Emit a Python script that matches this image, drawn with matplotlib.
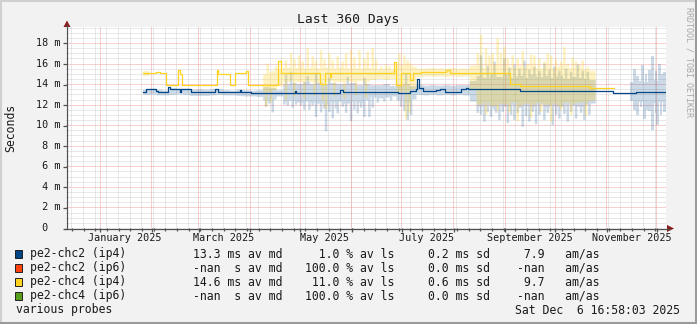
import numpy as np
import pandas as pd
import matplotlib
matplotlib.use("Agg")
import matplotlib.pyplot as plt
import matplotlib.dates as mdates
from matplotlib.lines import Line2D
from matplotlib.patches import Rectangle, Polygon

W, H, DPI = 697, 324, 100
MONO = "DejaVu Sans Mono"

window_end = pd.Timestamp("2025-12-06 16:58:03")
window_start = window_end - pd.Timedelta(days=360)

# ---- median round-trip times (ms), step series ----
chc2_v4_dates = ["2025-01-27", "2025-01-29", "2025-02-04", "2025-02-05", "2025-02-11",
                 "2025-02-12", "2025-02-18", "2025-02-19", "2025-02-25", "2025-03-11",
                 "2025-03-13", "2025-03-26", "2025-03-27", "2025-04-02", "2025-04-28",
                 "2025-04-29", "2025-05-25", "2025-05-27", "2025-06-29", "2025-07-06",
                 "2025-07-10", "2025-07-10 12:00", "2025-07-11 12:00", "2025-07-14",
                 "2025-07-22", "2025-07-24", "2025-07-27", "2025-08-06", "2025-08-09",
                 "2025-08-10", "2025-09-10", "2025-11-05", "2025-11-19", "2025-12-06 16:00"]
chc2_v4_ms = [13.2, 13.5, 13.35, 13.2, 13.75,
              13.5, 13.2, 13.5, 13.2, 13.5,
              13.2, 13.4, 13.2, 13.1, 13.35,
              13.1, 13.45, 13.2, 13.1, 13.3,
              13.5, 14.45, 13.6, 13.3,
              13.4, 13.5, 13.27, 13.5, 13.6,
              13.5, 13.35, 13.1, 13.2, 13.2]

chc4_v4_dates = ["2025-01-27", "2025-02-04", "2025-02-06", "2025-02-10", "2025-02-17",
                 "2025-02-18", "2025-02-19 12:00", "2025-03-12 12:00", "2025-03-13", "2025-03-20",
                 "2025-03-23", "2025-03-30", "2025-03-31", "2025-04-18", "2025-04-20",
                 "2025-05-13", "2025-05-16", "2025-05-19", "2025-05-20", "2025-06-26 12:00",
                 "2025-06-28", "2025-07-01", "2025-07-06", "2025-07-08", "2025-07-13",
                 "2025-07-28", "2025-07-30", "2025-09-04", "2025-09-10", "2025-10-22",
                 "2025-11-05 12:00"]
chc4_v4_ms = [15.05, 15.15, 15.05, 13.9, 15.4,
              15.0, 13.9, 15.35, 15.0, 13.9,
              15.05, 15.3, 13.9, 16.2, 15.05,
              14.0, 15.05, 14.7, 15.1, 16.1,
              13.9, 15.05, 14.4, 15.05, 15.15,
              15.4, 15.1, 14.0, 13.85, 13.65,
              13.65]

# ---- smoke: typical min..max band per 4-day bin (ms) ----
smoke_first_bin = "2025-01-27"
smoke_bin_days = 4
nan = np.nan
chc2_v4_lo = [12.95, 13.0, 12.9, 12.9, 12.95, 13.0, 12.95, 12.85, 12.85, 12.85,
              12.9, 12.95, 12.9, 12.9, 12.85, 12.8, 12.8, 12.75, 12.4, 12.5,
              12.8, 12.3, 12.4, 12.2, 12.3, 12.2, 12.1, 12.0, 12.2, 12.3,
              12.1, 12.3, 12.2, 12.4, 12.7, 12.6, 12.7, 12.8, 12.4, 12.2,
              12.5, 12.95, 12.9, 12.95, 12.9, 12.95, 12.9, 12.95, 12.9, 12.3,
              11.8, 11.9, 11.7, 11.9, 11.8, 12.0, 11.7, 11.9, 11.8, 12.0,
              11.7, 11.9, 11.8, 12.0, 11.9, 11.8, 12.0, 12.1, nan, nan,
              nan, nan, nan, 12.4, 12.3, 12.4, 12.2, 12.3, 12.4]
chc2_v4_hi = [13.45, 13.55, 13.45, 13.35, 13.6, 13.55, 13.55, 13.45, 13.5, 13.45,
              13.5, 13.5, 13.4, 13.35, 13.45, 13.4, 13.35, 13.4, 13.7, 13.6,
              13.4, 14.0, 14.1, 14.0, 14.2, 14.0, 14.1, 14.0, 14.1, 14.0,
              14.0, 14.1, 13.9, 14.0, 13.9, 13.9, 14.0, 13.8, 13.9, 14.0,
              13.8, 13.9, 13.85, 13.9, 13.85, 13.9, 13.85, 13.9, 13.9, 14.3,
              14.8, 14.6, 14.9, 14.7, 14.9, 14.6, 14.8, 14.6, 14.9, 14.7,
              14.8, 14.6, 14.8, 14.5, 14.7, 14.6, 14.5, 14.4, nan, nan,
              nan, nan, nan, 14.2, 14.3, 14.2, 14.4, 14.3, 14.2]
chc4_v4_lo = [14.8, nan, nan, nan, nan, nan, nan, nan, nan, nan,
              nan, nan, nan, nan, nan, nan, nan, nan, 13.2, 13.4,
              13.8, 14.2, 14.3, 14.2, 14.3, 14.2, 14.1, 14.2, 14.3, 14.2,
              14.3, 14.2, 14.3, 14.2, 14.4, 14.5, 14.4, 14.5, 13.2, 13.3,
              13.5, 14.7, 14.75, 14.7, 14.75, 14.7, 14.75, 14.7, 14.75, 13.5,
              12.0, 12.2, 11.9, 12.1, 12.0, 12.2, 11.9, 12.1, 12.0, 12.2,
              12.0, 12.1, 11.9, 12.2, 12.1, 12.2, 12.3, 12.4, nan, nan,
              nan, nan, nan, nan, nan, nan, nan, nan, nan]
chc4_v4_hi = [15.3, nan, nan, nan, nan, nan, nan, nan, nan, nan,
              nan, nan, nan, nan, nan, nan, nan, nan, 15.0, 15.2,
              15.4, 15.6, 15.5, 15.6, 15.5, 15.6, 15.5, 15.6, 15.5, 15.6,
              15.5, 15.6, 15.5, 15.6, 15.5, 15.4, 15.5, 15.4, 15.8, 15.9,
              15.7, 15.5, 15.5, 15.55, 15.5, 15.5, 15.55, 15.5, 15.5, 15.8,
              15.8, 15.6, 15.9, 15.7, 15.8, 15.6, 15.8, 15.6, 15.7, 15.5,
              15.7, 15.5, 15.7, 15.4, 15.6, 15.5, 15.4, 15.3, nan, nan,
              nan, nan, nan, nan, nan, nan, nan, nan, nan]

# ---- smoke: short-lived excursions beyond the band (date, ms) ----
chc2_v4_dip_dates = ["2025-04-10", "2025-04-12", "2025-04-14", "2025-04-21", "2025-04-23",
                     "2025-04-26", "2025-04-28", "2025-05-01", "2025-05-03", "2025-05-06",
                     "2025-05-08", "2025-05-10", "2025-05-13", "2025-05-15", "2025-05-16",
                     "2025-05-18", "2025-05-20", "2025-05-22", "2025-05-23", "2025-05-26",
                     "2025-05-28", "2025-05-31", "2025-06-02", "2025-06-04", "2025-06-06",
                     "2025-06-08", "2025-06-11", "2025-06-13", "2025-06-16", "2025-06-20",
                     "2025-06-24", "2025-06-30", "2025-07-02", "2025-07-04", "2025-07-06",
                     "2025-08-15", "2025-08-17", "2025-08-19", "2025-08-21", "2025-08-23",
                     "2025-08-25", "2025-08-26", "2025-08-28", "2025-08-30", "2025-09-02",
                     "2025-09-04", "2025-09-06", "2025-09-08", "2025-09-11", "2025-09-13",
                     "2025-09-15", "2025-09-17", "2025-09-19", "2025-09-21", "2025-09-24",
                     "2025-09-26", "2025-09-29", "2025-10-01", "2025-10-03", "2025-10-06",
                     "2025-10-08", "2025-10-10", "2025-10-13", "2025-10-16", "2025-10-18",
                     "2025-10-21", "2025-11-17", "2025-11-19", "2025-11-21", "2025-11-23",
                     "2025-11-25", "2025-11-26", "2025-11-28", "2025-11-30", "2025-12-01",
                     "2025-12-03", "2025-12-05"]
chc2_v4_dip_ms = [11.8, 12.1, 11.25, 12.0, 11.9,
                  11.7, 12.0, 11.9, 11.5, 11.5,
                  11.9, 10.8, 11.25, 11.6, 9.4,
                  11.3, 10.65, 11.6, 11.15, 11.8,
                  11.2, 10.4, 11.5, 11.15, 11.7,
                  10.8, 10.8, 11.7, 12.2, 12.3,
                  12.4, 11.8, 11.4, 10.5, 11.0,
                  11.2, 11.0, 10.35, 11.3, 10.8,
                  11.5, 11.2, 10.5, 11.3, 10.2,
                  11.0, 10.5, 11.2, 9.85, 10.9,
                  10.35, 11.3, 10.1, 11.0, 10.5,
                  11.2, 10.0, 11.0, 10.65, 11.1,
                  10.35, 11.3, 10.65, 11.2, 10.5,
                  11.0, 11.5, 11.0, 11.8, 10.65,
                  11.5, 11.4, 9.5, 11.2, 10.0,
                  11.0, 11.3]
chc2_v4_peak_dates = ["2025-04-22", "2025-04-25", "2025-05-05", "2025-05-10", "2025-05-18",
                      "2025-05-29", "2025-06-08", "2025-07-03", "2025-08-17", "2025-08-21",
                      "2025-08-25", "2025-08-31", "2025-09-03", "2025-09-06", "2025-09-09",
                      "2025-09-12", "2025-09-15", "2025-09-18", "2025-09-21", "2025-09-24",
                      "2025-09-27", "2025-09-30", "2025-10-03", "2025-10-07", "2025-10-10",
                      "2025-10-14", "2025-10-17", "2025-10-20", "2025-11-17", "2025-11-19",
                      "2025-11-22", "2025-11-24", "2025-11-26", "2025-11-28", "2025-11-30",
                      "2025-12-02", "2025-12-04", "2025-12-05"]
chc2_v4_peak_ms = [14.9, 15.2, 14.8, 15.0, 14.6,
                   14.7, 14.6, 15.0, 16.8, 15.8,
                   16.2, 16.5, 15.6, 15.9, 15.5,
                   16.3, 15.4, 15.7, 15.3, 16.0,
                   15.4, 15.7, 15.3, 15.5, 15.2,
                   15.9, 15.3, 15.2, 15.5, 14.8,
                   15.9, 15.0, 15.4, 16.7, 15.3,
                   16.0, 15.0, 15.2]
chc4_v4_peak_dates = ["2025-04-11", "2025-04-14", "2025-04-16", "2025-04-22", "2025-04-25",
                      "2025-04-27", "2025-04-30", "2025-05-02", "2025-05-05", "2025-05-08",
                      "2025-05-10", "2025-05-13", "2025-05-15", "2025-05-18", "2025-05-20",
                      "2025-05-23", "2025-05-26", "2025-05-28", "2025-05-31", "2025-06-02",
                      "2025-06-05", "2025-06-08", "2025-06-10", "2025-06-13", "2025-06-15",
                      "2025-06-18", "2025-06-21", "2025-06-23", "2025-06-29", "2025-07-02",
                      "2025-07-04", "2025-07-06", "2025-08-15", "2025-08-17", "2025-08-20",
                      "2025-08-22", "2025-08-24", "2025-08-27", "2025-08-29", "2025-08-31",
                      "2025-09-02", "2025-09-05", "2025-09-08", "2025-09-11", "2025-09-14",
                      "2025-09-16", "2025-09-18", "2025-09-21", "2025-09-24", "2025-09-26",
                      "2025-09-28", "2025-10-01", "2025-10-04", "2025-10-06", "2025-10-08",
                      "2025-10-11", "2025-10-13", "2025-10-15", "2025-10-17", "2025-10-20"]
chc4_v4_peak_ms = [16.0, 15.3, 15.7, 16.3, 17.0,
                   16.4, 16.8, 16.2, 17.5, 16.7,
                   16.3, 17.3, 16.4, 17.0, 16.3,
                   16.7, 16.2, 17.0, 17.3, 16.6,
                   17.3, 16.5, 17.15, 17.5, 16.4,
                   15.7, 15.9, 15.7, 17.0, 16.8,
                   16.3, 16.0, 17.0, 18.8, 17.5,
                   16.8, 17.0, 18.45, 17.0, 17.6,
                   16.5, 16.8, 16.5, 17.2, 16.0,
                   16.9, 16.8, 16.5, 16.2, 17.0,
                   16.8, 16.4, 16.2, 17.6, 16.0,
                   16.6, 16.2, 15.9, 16.3, 15.7]
chc4_v4_dip_dates = ["2025-04-10", "2025-04-13", "2025-04-22", "2025-04-27", "2025-05-03",
                     "2025-05-09", "2025-05-14", "2025-05-16", "2025-05-21", "2025-05-27",
                     "2025-06-03", "2025-06-09", "2025-07-03", "2025-07-05", "2025-08-20",
                     "2025-08-27", "2025-09-03", "2025-09-08", "2025-09-16", "2025-09-22",
                     "2025-09-28", "2025-10-04", "2025-10-10", "2025-10-19"]
chc4_v4_dip_ms = [11.8, 12.2, 12.5, 12.8, 12.6,
                  12.9, 12.4, 11.6, 12.8, 12.6,
                  12.9, 12.7, 10.6, 11.2, 11.0,
                  11.4, 11.2, 10.35, 10.7, 11.3,
                  10.35, 11.5, 11.0, 10.9]

# ---- legend / statistics ----
target_names = ["pe2-chc2 (ip4)", "pe2-chc2 (ip6)", "pe2-chc4 (ip4)", "pe2-chc4 (ip6)"]
target_colors = ["#004586", "#ff420e", "#ffd320", "#579d1c"]
stat_avg = ["13.3 ms", "-nan  s", "14.6 ms", "-nan  s"]
stat_loss = ["1.0", "100.0", "11.0", "100.0"]
stat_sd = ["0.2 ms", "0.0 ms", "0.6 ms", "0.0 ms"]
stat_amas = ["7.9", "-nan", "9.7", "-nan"]

y_ticks_ms = [0, 2, 4, 6, 8, 10, 12, 14, 16, 18]
x_labels = ["January 2025", "March 2025", "May 2025", "July 2025",
            "September 2025", "November 2025"]
x_label_months = ["2025-01-01", "2025-03-01", "2025-05-01", "2025-07-01",
                  "2025-09-01", "2025-11-01"]

# ---------------------------------------------------------------------------
BG = "#f2f2f2"
fig = plt.figure(figsize=(W / DPI, H / DPI), dpi=DPI, facecolor=BG)


def fx(px):
    return px / W


def fy(py):
    return 1 - py / H


def to_dt(values):
    return pd.to_datetime(values, format="ISO8601")


PX_L, PX_R, PX_T, PX_B = 66, 666, 27, 228
ax = fig.add_axes([fx(PX_L), fy(PX_B), (PX_R - PX_L) / W, (PX_B - PX_T) / H])
ax.set_facecolor("white")
ymax = (PX_B - PX_T) / 10.28
ax.set_xlim(window_start, window_end)
ax.set_ylim(0, ymax)
for s in ax.spines.values():
    s.set_visible(False)
ax.tick_params(which="both", length=0, labelbottom=False, labelleft=False)

# grid
minor_col = "#d2d2d2"
major_col = "#f0a0a0"
dots = (0, (1, 1))
weeks = pd.date_range(window_start.normalize(), window_end, freq="W-SUN")
months = pd.date_range("2024-12-01", window_end, freq="MS")
for d in weeks:
    if d >= window_start:
        ax.axvline(d, color=minor_col, lw=0.72, ls=dots, zorder=0.5)
for v in np.arange(0.5, ymax, 0.5):
    if abs(v / 2 - round(v / 2)) > 1e-6:
        ax.axhline(v, color=minor_col, lw=0.72, ls=dots, zorder=0.5)
for d in months:
    if d >= window_start:
        ax.axvline(d, color=major_col, lw=0.72, ls=dots, zorder=0.6)
for v in y_ticks_ms[1:]:
    ax.axhline(v, color=major_col, lw=0.72, ls=dots, zorder=0.6)

# smoke: expand the 4-day bands onto a 12-hour grid and add excursions
first = pd.Timestamp(smoke_first_bin)
grid = pd.date_range(first, window_end, freq="12h")
idx = ((grid - first) // pd.Timedelta(days=smoke_bin_days)).astype(int)
idx = np.minimum(idx, len(chc2_v4_lo) - 1)
spike_len = pd.Timedelta(hours=36)


def smoke(lo, hi, dip_d, dip_v, peak_d, peak_v, color, alpha):
    lo = np.array(lo, float)[idx]
    hi = np.array(hi, float)[idx]
    for d, v in zip(to_dt(dip_d), dip_v):
        m = (grid >= d) & (grid < d + spike_len) & ~np.isnan(lo)
        lo[m] = np.minimum(lo[m], v)
    for d, v in zip(to_dt(peak_d), peak_v):
        m = (grid >= d) & (grid < d + spike_len) & ~np.isnan(hi)
        hi[m] = np.maximum(hi[m], v)
    xs = grid.append(pd.DatetimeIndex([window_end]))
    ax.fill_between(xs, np.append(lo, lo[-1]), np.append(hi, hi[-1]),
                    step="post", color=color, alpha=alpha, lw=0, zorder=1)


smoke(chc2_v4_lo, chc2_v4_hi, chc2_v4_dip_dates, chc2_v4_dip_ms,
      chc2_v4_peak_dates, chc2_v4_peak_ms, "#004586", 0.2)
smoke(chc4_v4_lo, chc4_v4_hi, chc4_v4_dip_dates, chc4_v4_dip_ms,
      chc4_v4_peak_dates, chc4_v4_peak_ms, "#ffd320", 0.28)

# medians
ax.step(to_dt(chc4_v4_dates), chc4_v4_ms, where="post",
        color=target_colors[2], lw=0.9, zorder=3)
ax.step(to_dt(chc2_v4_dates), chc2_v4_ms, where="post",
        color=target_colors[0], lw=0.9, zorder=4)

# axes lines, ticks and arrows (figure pixel space)
AXIS = "#505050"
ARROW = "#8b1a1a"


def fline(x0, y0, x1, y1, color=AXIS, lw=0.9):
    fig.add_artist(Line2D([fx(x0), fx(x1)], [fy(y0), fy(y1)], color=color,
                          lw=lw, solid_capstyle="butt"))


fline(PX_L + 0.5, PX_B + 0.5, PX_L + 0.5, 24)
fline(PX_L - 2, PX_B + 0.5, 670, PX_B + 0.5)
fig.add_artist(Polygon([[fx(63.5), fy(27)], [fx(70.5), fy(27)], [fx(67), fy(20.5)]],
                       closed=True, color=ARROW, lw=0))
fig.add_artist(Polygon([[fx(667), fy(225)], [fx(667), fy(232)], [fx(674), fy(228.5)]],
                       closed=True, color=ARROW, lw=0))

t0 = mdates.date2num(window_start)
t1 = mdates.date2num(window_end)


def x_to_px(d):
    return PX_L + (PX_R - PX_L) * (mdates.date2num(d) - t0) / (t1 - t0)


def y_to_px(v):
    return PX_B - v * 10.28


for v in y_ticks_ms:
    py = y_to_px(v) + 0.5
    fline(PX_L - 3, py, PX_L + 0.5, py)
for d in weeks:
    if d >= window_start:
        px = x_to_px(d) + 0.5
        fline(px, PX_B, px, PX_B + 2.5)
for d in months:
    if d >= window_start:
        px = x_to_px(d) + 0.5
        fline(px, PX_B, px, PX_B + 3.5)

# y tick labels
for v in y_ticks_ms:
    lab = f"{v:2d} m" if v else " 0"
    fig.text(fx(36), fy(y_to_px(v)), lab, family=MONO, size=7.3,
             ha="left", va="center", color="#1a1a1a")

# x tick labels, centred mid-month
for lab, m in zip(x_labels, x_label_months):
    c = pd.Timestamp(m) + pd.Timedelta(days=15)
    fig.text(fx(x_to_px(c)), fy(238), lab, family=MONO, size=7.3,
             ha="center", va="center", color="#1a1a1a")

# titles
fig.text(fx(348), fy(19), "Last 360 Days", family=MONO, size=9.4,
         ha="center", va="center", color="#1a1a1a")
fig.text(fx(11), fy(128), "Seconds", family=MONO, size=8.3, rotation=90,
         ha="center", va="center", color="#1a1a1a")
fig.text(fx(689), fy(62), "RRDTOOL / TOBI OETIKER", family=MONO, size=6.0,
         rotation=270, ha="center", va="center", color="#a8a8a8")

# legend rows
CW = 6.95
row_y = [254, 268, 282, 296]
for i, y in enumerate(row_y):
    fig.add_artist(Rectangle((fx(15), fy(y + 4)), 7 / W, 8 / H,
                             facecolor=target_colors[i], edgecolor="#202020",
                             lw=0.7))
    kw = dict(family=MONO, size=8.3, ha="left", va="center", color="#1a1a1a")
    fig.text(fx(30), fy(y), target_names[i], **kw)
    fig.text(fx(193), fy(y), f"{stat_avg[i]} av md", **kw)
    fig.text(fx(340 - CW * 5), fy(y), f"{stat_loss[i]:>5} % av ls", **kw)
    fig.text(fx(428), fy(y), f"{stat_sd[i]} sd", **kw)
    fig.text(fx(545 - CW * 4), fy(y), f"{stat_amas[i]:>4}   am/as", **kw)

fig.text(fx(16), fy(310), "various probes", family=MONO, size=8.3,
         ha="left", va="center", color="#1a1a1a")
fig.text(fx(680), fy(310), "Sat Dec  6 16:58:03 2025", family=MONO, size=8.3,
         ha="right", va="center", color="#1a1a1a")

# 3-D style frame
fline(0, 1, W, 1, color="#d0d0d0", lw=1.5)
fline(1, 0, 1, H, color="#d0d0d0", lw=1.5)
fline(0, H - 1, W, H - 1, color="#9a9a9a", lw=1.5)
fline(W - 1, 0, W - 1, H, color="#9a9a9a", lw=1.5)

fig.savefig("out.png", dpi=DPI, facecolor=BG)
